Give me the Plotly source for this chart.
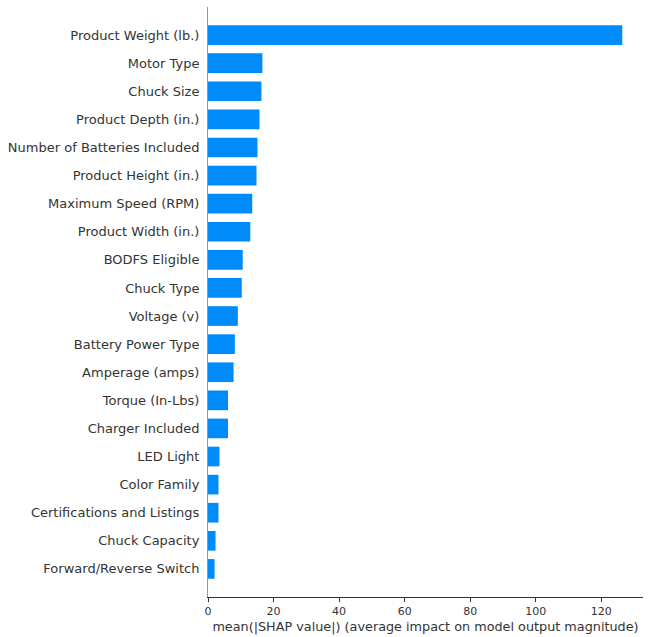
import plotly.graph_objects as go

features = [
    "Product Weight (lb.)", "Motor Type", "Chuck Size", "Product Depth (in.)",
    "Number of Batteries Included", "Product Height (in.)", "Maximum Speed (RPM)",
    "Product Width (in.)", "BODFS Eligible", "Chuck Type", "Voltage (v)",
    "Battery Power Type", "Amperage (amps)", "Torque (In-Lbs)", "Charger Included",
    "LED Light", "Color Family", "Certifications and Listings", "Chuck Capacity",
    "Forward/Reverse Switch",
]
mean_abs_shap = [
    126.4, 16.6, 16.3, 15.7, 15.1, 14.8, 13.5, 12.9, 10.6, 10.3, 9.1,
    8.2, 7.8, 6.1, 6.1, 3.5, 3.2, 3.2, 2.3, 2.0,
]
x_ticks = [0, 20, 40, 60, 80, 100, 120]
x_label = "mean(|SHAP value|) (average impact on model output magnitude)"

# bottom-first ordering so the largest feature appears at the top
feats_rev = features[::-1]
vals_rev = mean_abs_shap[::-1]

fig = go.Figure(
    go.Bar(
        x=vals_rev,
        y=feats_rev,
        orientation="h",
        marker=dict(color="#008bfb", line=dict(width=0)),
        hoverinfo="x+y",
    )
)

xmax = max(mean_abs_shap) * 1.05

fig.update_layout(
    width=649,
    height=637,
    margin=dict(l=208, r=6, t=7, b=40, autoexpand=False),
    paper_bgcolor="white",
    plot_bgcolor="white",
    bargap=0.3,
    showlegend=False,
    font=dict(family="DejaVu Sans", color="#333333"),
    xaxis=dict(
        range=[0, xmax],
        automargin=False,
        tickvals=x_ticks,
        ticktext=[str(t) for t in x_ticks],
        showgrid=False,
        zeroline=False,
        showline=True,
        linecolor="#333333",
        linewidth=1,
        ticks="outside",
        ticklen=4,
        tickwidth=1,
        tickcolor="#333333",
        tickfont=dict(size=11, color="#333333"),
        title=dict(text=x_label, font=dict(size=12.8, color="#333333"), standoff=4),
    ),
    yaxis=dict(
        type="category",
        automargin=False,
        categoryorder="array",
        categoryarray=feats_rev,
        range=[-1, len(features)],
        showgrid=False,
        zeroline=False,
        showline=True,
        linecolor="#999999",
        linewidth=1,
        ticks="outside",
        ticklen=5,
        tickcolor="rgba(0,0,0,0)",
        tickfont=dict(size=13, color="#333333"),
    ),
)

fig.write_html(
    "out.html",
    config={"displayModeBar": False},
    post_script="document.body.style.margin='0';document.body.style.overflow='hidden';",
)
